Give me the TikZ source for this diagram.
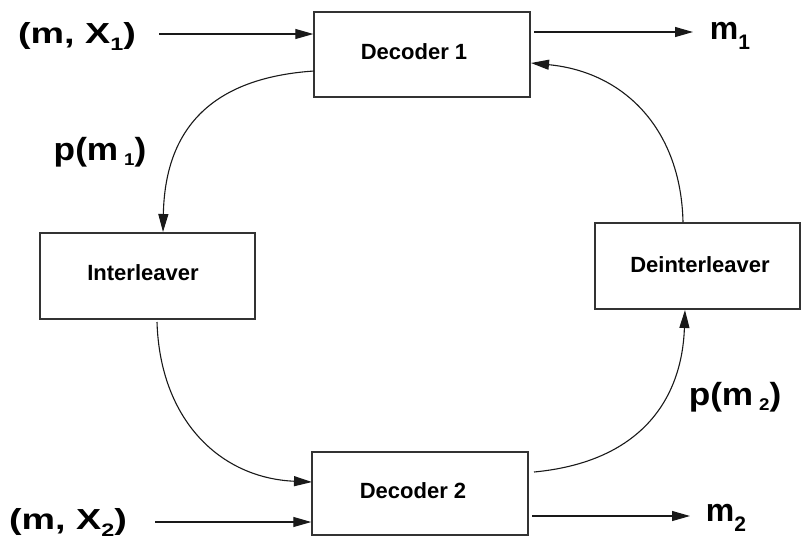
\documentclass[tikz,border=0pt]{standalone}
\usepackage{fontspec}
\usepackage{graphicx}
\setmainfont{Liberation Sans}
\usetikzlibrary{arrows.meta}
% lowered, smaller digit used as a subscript
\newcommand\lowdigit[3]{\raisebox{#1}{\fontsize{#2}{#2}\selectfont #3}}
\begin{document}
\begin{tikzpicture}[x=1pt,y=-1pt,
  block/.style={draw=black!80,line width=1.4pt,rectangle,inner sep=0pt},
  blocktext/.style={font=\bfseries\fontsize{22}{26}\selectfont,inner sep=0pt},
  biglabel/.style={font=\bfseries\fontsize{29}{34}\selectfont,inner sep=0pt},
  flow/.style={line width=1.1pt,draw=black!90,-{Triangle[length=18pt,width=10pt]}}]
\useasboundingbox (0,0) rectangle (801,539);

% processing blocks
\node[block,minimum width=216pt,minimum height=85pt] (dec1) at (422,54.5) {};
\node[block,minimum width=215pt,minimum height=86pt] (inter) at (147.5,276) {};
\node[block,minimum width=205pt,minimum height=86pt] (deinter) at (697.5,266) {};
\node[block,minimum width=216pt,minimum height=83pt] (dec2) at (420,493.5) {};

\node[blocktext] (dec1t) at (414,52) {Decoder 1};
\node[blocktext] (intert) at (143,273) {Interleaver};
\node[blocktext] (deintert) at (700,265) {Deinterleaver};
\node[blocktext] (dec2t) at (413,491) {Decoder 2};

% inputs and outputs
\node[biglabel] (in1) at (77,36) {\scalebox{1.3}[1]{(m, X\lowdigit{-7pt}{18}{1})}};
\node[biglabel] (in2) at (68,522) {\scalebox{1.3}[1]{(m, X\lowdigit{-7pt}{18}{2})}};
\node[biglabel,font=\bfseries\fontsize{32}{36}\selectfont] (out1) at (730,36) {m\lowdigit{-10pt}{21}{1}};
\node[biglabel,font=\bfseries\fontsize{32}{36}\selectfont] (out2) at (726,518) {m\lowdigit{-10pt}{21}{2}};
\node[biglabel,font=\bfseries\fontsize{32}{36}\selectfont] (p1) at (100,152) {\scalebox{1.1}[1]{p(m\,\lowdigit{-5pt}{17}{1})}};
\node[biglabel,font=\bfseries\fontsize{32}{36}\selectfont] (p2) at (735,397) {\scalebox{1.1}[1]{p(m\,\lowdigit{-5pt}{17}{2})}};

% free ends of the straight connectors
\coordinate (in1e) at (159,34);
\coordinate (in2e) at (155,522);
\coordinate (out1s) at (534,32);
\coordinate (out1e) at (693,32);
\coordinate (out2s) at (532,516);
\coordinate (out2e) at (690,516);

\draw[flow] (in1e) -- (in1e -| dec1.west);
\draw[flow] (in2e) -- (in2e -| dec2.west);
\draw[flow] (out1s) -- (out1e);
\draw[flow] (out2s) -- (out2e);

% feedback loop
\coordinate (d1l) at (314,71);
\coordinate (intn) at (163,232);
\coordinate (ints) at (157,322);
\coordinate (d2l) at (312,482);
\coordinate (d2r) at (534,472);
\coordinate (dins) at (685,310);
\coordinate (dinn) at (683,222);
\coordinate (d1r) at (531,63);
\draw[flow] (d1l) .. controls (210,78) and (165,130) .. (intn);
\draw[flow] (ints) .. controls (160,420) and (220,478) .. (d2l);
\draw[flow] (d2r) .. controls (640,462) and (682,400) .. (dins);
\draw[flow] (dinn) .. controls (681,130) and (625,72) .. (d1r);
\end{tikzpicture}
\end{document}
